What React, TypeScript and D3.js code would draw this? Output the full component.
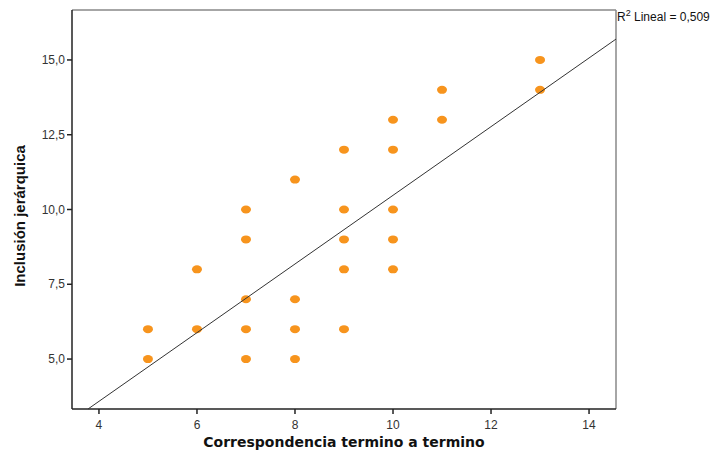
import React from "react";
import * as d3 from "d3";

const xValues = [5, 5, 6, 6, 7, 7, 7, 7, 7, 8, 8, 8, 8, 9, 9, 9, 9, 9, 10, 10, 10, 10, 10, 11, 11, 13, 13];
const yValues = [5, 6, 6, 8, 5, 6, 7, 9, 10, 5, 6, 7, 11, 6, 8, 9, 10, 12, 8, 9, 10, 12, 13, 13, 14, 14, 15];
const xTicks = [4, 6, 8, 10, 12, 14];
const yTicks = [5, 7.5, 10, 12.5, 15];
const xLabel = "Correspondencia termino a termino";
const yLabel = "Inclusión jerárquica";
const r2Text = "0,509";
// Linear fit (SPSS fit over the full, overlapping data set)
const fitIntercept = -1.006;
const fitSlope = 1.148;

const W = 713, H = 455;
const L = 72, R = 616, T = 10, B = 409;

export default function App() {
  const x = d3.scaleLinear().domain([3.45, 14.55]).range([L, R]);
  const y = d3.scaleLinear().domain([3.33, 16.67]).range([B, T]);
  const [x0, x1] = x.domain();
  const [y0, y1] = y.domain();
  let lx0 = x0, lx1 = x1;
  if (fitIntercept + fitSlope * lx0 < y0) lx0 = (y0 - fitIntercept) / fitSlope;
  if (fitIntercept + fitSlope * lx1 > y1) lx1 = (y1 - fitIntercept) / fitSlope;
  const line = d3.line<number>().x((v) => x(v)).y((v) => y(fitIntercept + fitSlope * v));
  const fmt = (v: number) => v.toFixed(1).replace(".", ",");
  return (
    <svg width={W} height={H} style={{ position: "absolute", left: 0, top: 0, background: "#fff" }} fontFamily="Arial, 'Liberation Sans', sans-serif">
      <rect x={0} y={0} width={W} height={H} fill="#fff" />
      <line x1={L} y1={T} x2={R} y2={T} stroke="#888" strokeWidth={1.5} />
      <line x1={R} y1={T} x2={R} y2={B} stroke="#888" strokeWidth={1.5} />
      <line x1={L} y1={T} x2={L} y2={B} stroke="#222" strokeWidth={1.5} />
      <line x1={L} y1={B} x2={R} y2={B} stroke="#222" strokeWidth={1.5} />
      {yTicks.map((t) => (
        <g key={"y" + t}>
          <line x1={L - 5} x2={L} y1={y(t)} y2={y(t)} stroke="#222" strokeWidth={1.5} />
          <text x={L - 7} y={y(t)} dy="0.35em" textAnchor="end" fontSize={12} fill="#333">{fmt(t)}</text>
        </g>
      ))}
      {xTicks.map((t) => (
        <g key={"x" + t}>
          <line x1={x(t)} x2={x(t)} y1={B} y2={B + 5} stroke="#222" strokeWidth={1.5} />
          <text x={x(t)} y={B + 20} textAnchor="middle" fontSize={12} fill="#333">{t}</text>
        </g>
      ))}
      {xValues.map((v, i) => (
        <ellipse key={i} cx={x(v)} cy={y(yValues[i])} rx={5} ry={4} fill="#f7941d" />
      ))}
      <path d={line([lx0, lx1]) || ""} stroke="#333" strokeWidth={1} fill="none" />
      <text x={617} y={21} fontSize={12} fill="#111">
        R<tspan dy={-5} fontSize={9}>2</tspan><tspan dy={5}> Lineal = {r2Text}</tspan>
      </text>
      <text x={(L + R) / 2} y={447} textAnchor="middle" fontSize={14} fontWeight="bold" fill="#111" fontFamily="Verdana, 'DejaVu Sans', sans-serif">{xLabel}</text>
      <text transform={`translate(25, 216) rotate(-90)`} textAnchor="middle" fontSize={15} fontWeight="bold" fill="#111">{yLabel}</text>
    </svg>
  );
}
